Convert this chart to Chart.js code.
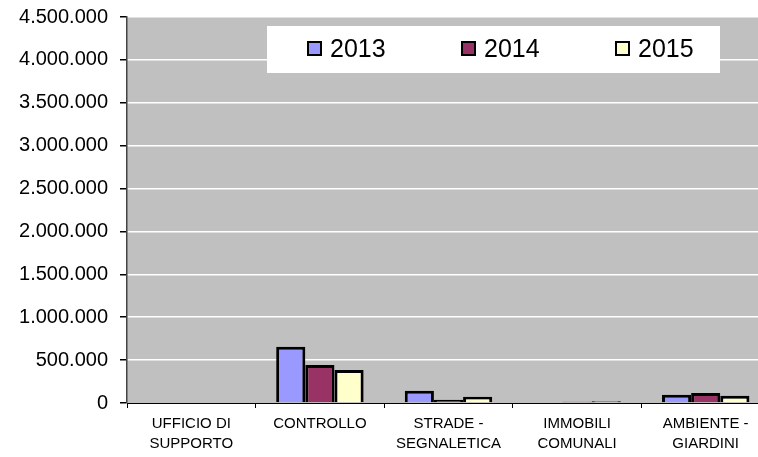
<!DOCTYPE html>
<html>
<head>
<meta charset="utf-8">
<script src="https://cdn.jsdelivr.net/npm/chart.js@4"></script>
<style>
  html, body { margin: 0; padding: 0; background: #fff; overflow: hidden; }
  #chart { display: block; }
</style>
</head>
<body>
<canvas id="chart" width="772" height="457"></canvas>
<script>
// dati
const categorie = [
    ['UFFICIO DI', 'SUPPORTO'],
    'CONTROLLO',
    ['STRADE -', 'SEGNALETICA'],
    ['IMMOBILI', 'COMUNALI'],
    ['AMBIENTE -', 'GIARDINI']
];
const anni = ['2013', '2014', '2015'];
const valori2013 = [0, 656000, 143000, 0, 97000];
const valori2014 = [0, 443000, 38000, 16000, 117000];
const valori2015 = [0, 385000, 73000, 20000, 85000];
const yMax = 4500000;
const yStep = 500000;

const colori = ['#9999FF', '#993366', '#FFFFCC'];

function formatta(v) {
    return String(v).replace(/\B(?=(\d{3})+(?!\d))/g, '.');
}

// sfondo grigio dell'area del grafico
const sfondoPlot = {
    id: 'sfondoPlot',
    beforeDraw(chart) {
        const { ctx, chartArea: a } = chart;
        ctx.save();
        ctx.fillStyle = '#C0C0C0';
        ctx.fillRect(a.left, a.top, a.right - a.left, a.bottom - a.top);
        ctx.restore();
    }
};

// legenda dentro l'area del grafico, stile Excel
const legendaInterna = {
    id: 'legendaInterna',
    afterDraw(chart) {
        const { ctx, chartArea: a } = chart;
        const x0 = a.left + 140, y0 = a.top + 9;
        ctx.save();
        ctx.fillStyle = '#fff';
        ctx.fillRect(x0, y0, 453, 47);
        ctx.font = '25px "Liberation Sans", Arial, sans-serif';
        ctx.textBaseline = 'alphabetic';
        chart.data.datasets.forEach((ds, i) => {
            const sx = x0 + 41 + i * 154;
            ctx.fillStyle = ds.backgroundColor;
            ctx.fillRect(sx, y0 + 16, 13, 13);
            ctx.strokeStyle = '#000';
            ctx.lineWidth = 2;
            ctx.strokeRect(sx, y0 + 16, 13, 13);
            ctx.fillStyle = '#000';
            ctx.fillText(ds.label, sx + 22, y0 + 31);
        });
        ctx.restore();
    }
};

const serie = [valori2013, valori2014, valori2015];

new Chart(document.getElementById('chart'), {
    type: 'bar',
    data: {
        labels: categorie,
        datasets: anni.map((anno, i) => ({
            label: anno,
            data: serie[i],
            backgroundColor: colori[i],
            borderColor: '#000',
            borderWidth: 3,
            borderSkipped: 'bottom',
            categoryPercentage: 0.68,
            barPercentage: 1.0
        }))
    },
    options: {
        responsive: false,
        animation: false,
        layout: { padding: { top: 17, right: 2, left: 0, bottom: 0 } },
        plugins: {
            legend: { display: false },
            tooltip: { enabled: false }
        },
        scales: {
            x: {
                afterFit: s => { s.height = 54; s.paddingLeft = 0; s.paddingRight = 0; },
                grid: {
                    offset: true,
                    drawOnChartArea: false,
                    drawTicks: true,
                    tickLength: 5,
                    tickColor: '#000'
                },
                border: { color: '#000', width: 1 },
                ticks: {
                    color: '#000',
                    padding: 6,
                    maxRotation: 0,
                    autoSkip: false,
                    font: { family: '"Liberation Sans", Arial, sans-serif', size: 15, lineHeight: 1.33 }
                }
            },
            y: {
                min: 0,
                max: yMax,
                afterFit: s => { s.width = 127; s.paddingTop = 0; s.paddingBottom = 0; },
                grid: {
                    color: ctx => (ctx.tick && ctx.tick.value === 0) ? 'rgba(0,0,0,0)' : '#fff',
                    lineWidth: 1.5,
                    drawTicks: true,
                    tickLength: 7,
                    tickColor: '#000'
                },
                border: { color: '#444', width: 1.5 },
                ticks: {
                    stepSize: yStep,
                    color: '#000',
                    padding: 12,
                    font: { family: '"Liberation Sans", Arial, sans-serif', size: 20 },
                    callback: v => formatta(v)
                }
            }
        }
    },
    plugins: [sfondoPlot, legendaInterna]
});
</script>
</body>
</html>
